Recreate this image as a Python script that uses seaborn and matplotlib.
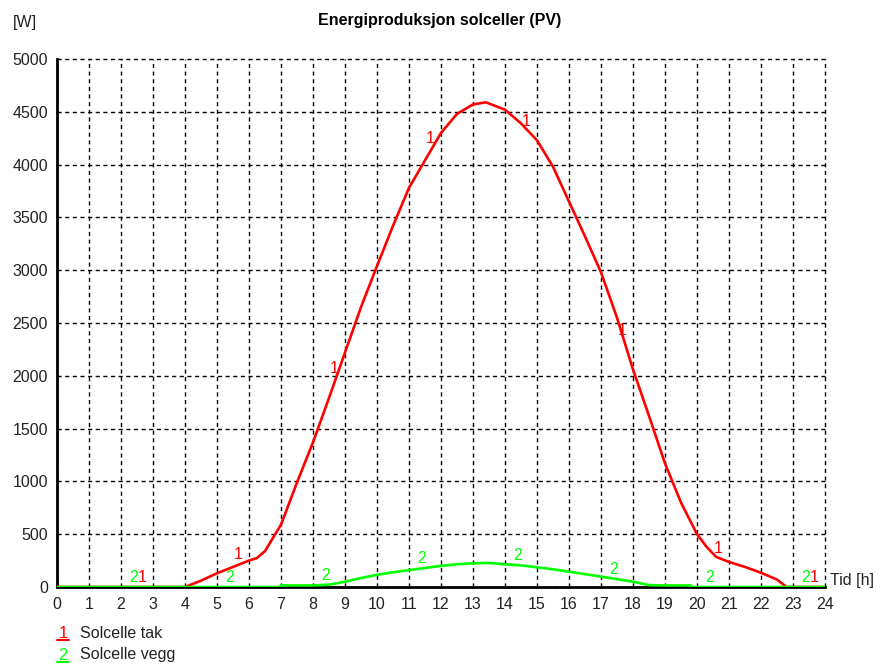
import numpy as np
import pandas as pd
import matplotlib
matplotlib.use("Agg")
import matplotlib.pyplot as plt
from matplotlib.lines import Line2D
import seaborn as sns

# ---- data ----
series_names = ["Solcelle tak", "Solcelle vegg"]
series_marks = ["1", "2"]
series_colors = ["#ff0000", "#00ff00"]

hours_tak = [0, 4.0, 4.5, 5, 5.5, 6, 6.25, 6.5, 7, 7.5, 8, 8.5, 9, 9.5, 10, 10.5,
             11, 11.5, 12, 12.5, 13, 13.4, 14, 14.5, 15, 15.5, 16, 16.5, 17, 17.5,
             18, 18.5, 19, 19.5, 20, 20.3, 20.6, 21, 21.5, 22, 22.5, 22.8, 24]
watt_tak = [0, 0, 60, 130, 190, 250, 275, 340, 590, 990, 1370, 1790, 2220, 2650, 3040, 3420,
            3780, 4040, 4300, 4480, 4570, 4590, 4520, 4390, 4230, 3980, 3650, 3320, 2980, 2550,
            2060, 1620, 1170, 800, 500, 380, 285, 237, 190, 135, 70, 0, 0]

hours_vegg = [0, 6.95, 7, 8, 8.5, 9, 9.5, 10, 10.5, 11, 11.5, 12, 12.5, 13, 13.5, 14,
              14.5, 15, 15.5, 16, 16.5, 17, 17.5, 18, 18.5, 19, 19.8, 19.85, 24]
watt_vegg = [0, 0, 15, 15, 22, 50, 85, 115, 140, 160, 180, 200, 215, 225, 228, 215,
             205, 187, 168, 145, 122, 98, 75, 50, 18, 15, 15, 0, 0]

x_ticks = list(range(0, 25))
y_ticks = list(range(0, 5001, 500))

title = "Energiproduksjon solceller (PV)"
y_unit = "[W]"
x_unit = "Tid [h]"

df = pd.concat([
    pd.DataFrame({"Tid": hours_tak, "W": watt_tak, "serie": series_names[0]}),
    pd.DataFrame({"Tid": hours_vegg, "W": watt_vegg, "serie": series_names[1]}),
], ignore_index=True)

sns.set_theme(style="white")
plt.rcParams["font.family"] = ["Liberation Sans", "DejaVu Sans"]

fig = plt.figure(figsize=(8.8, 6.68), dpi=100)
ax = fig.add_axes([57 / 880, 1 - 587 / 668, 768 / 880, 528 / 668])

sns.lineplot(data=df, x="Tid", y="W", hue="serie", hue_order=series_names,
             palette=series_colors, linewidth=1.9, legend=False, ax=ax,
             sort=False, estimator=None, zorder=3)

ax.set_xlim(0, 24)
ax.set_ylim(0, 5000)
ax.set_xticks(x_ticks)
ax.set_yticks(y_ticks)
ax.set_xticklabels([str(t) for t in x_ticks])
ax.set_yticklabels([str(t) for t in y_ticks])
ax.set_xlabel("")
ax.set_ylabel("")

ax.grid(True, color="black", linestyle=(0, (3, 2.5)), linewidth=1.0)
ax.set_axisbelow(True)
for gl in ax.get_xgridlines() + ax.get_ygridlines():
    gl.set_clip_on(False)
for s in ["top", "right"]:
    ax.spines[s].set_visible(False)
for s in ["left", "bottom"]:
    ax.spines[s].set_color("black")
    ax.spines[s].set_linewidth(2.0)
    ax.spines[s].set_zorder(2)
ax.tick_params(axis="both", direction="inout", length=7, width=1.8, color="black",
               labelsize=11.5, labelcolor="#222222")
ax.tick_params(axis="x", pad=4)
ax.tick_params(axis="y", pad=3)

# curve number labels
label_starts = [2.72, 2.45]
xs_list = [hours_tak, hours_vegg]
ys_list = [watt_tak, watt_vegg]
for mark, col, start, xs, ys in zip(series_marks, series_colors, label_starts, xs_list, ys_list):
    for h in np.arange(start, 24, 3.0):
        yv = float(np.interp(h, xs, ys))
        ax.annotate(mark, xy=(h, yv), xytext=(-1, 7), textcoords="offset points",
                    ha="center", va="center", color=col, fontsize=11.5, zorder=4,
                    annotation_clip=False)

fig.text(440 / 880, 1 - 20 / 668, title, ha="center", va="center",
         fontsize=11.5, fontweight="bold", color="black")
fig.text(13 / 880, 1 - 22 / 668, y_unit, ha="left", va="center", fontsize=11.5, color="#222222")
fig.text(830 / 880, 1 - 580 / 668, x_unit, ha="left", va="center", fontsize=11.5, color="#222222")

# legend
for i, (name, mark, col) in enumerate(zip(series_names, series_marks, series_colors)):
    yc = 633 + 22 * i
    fig.text(63 / 880, 1 - yc / 668, mark, ha="center", va="center", fontsize=12, color=col)
    fig.add_artist(Line2D([57 / 880, 69 / 880], [1 - (yc + 7) / 668] * 2, color=col,
                          linewidth=1.5, transform=fig.transFigure))
    fig.text(80 / 880, 1 - yc / 668, name, ha="left", va="center", fontsize=11.5, color="#222222")

fig.savefig("out.png", dpi=100)
